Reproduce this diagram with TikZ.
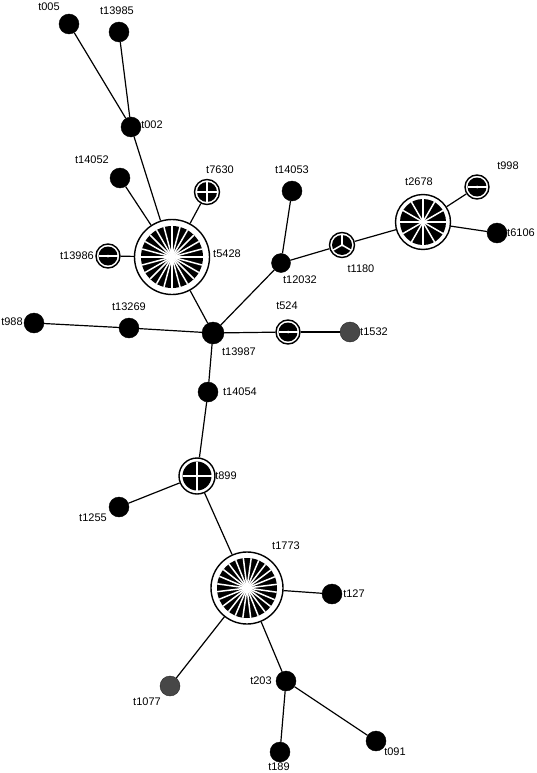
\documentclass[tikz,border=0pt]{standalone}
\usepackage{fontspec}
\setmainfont{Liberation Sans}
\newcommand\mypie[4]{% name, inner radius, slices, start angle
  \fill[black] (#1.center) circle (#2pt);
  \foreach \k in {1,...,#3} {\draw[white,line width=1.5pt] (#1.center) -- ++({#4+360/#3*\k}:#2pt);}
  \fill[white] (#1.center) circle (1.5pt);
}
\begin{document}
\begin{tikzpicture}[x=1pt,y=-1pt,
  dot/.style={circle,fill=black,draw=black,inner sep=0pt,minimum size=20pt},
  bigdot/.style={dot,minimum size=22pt},
  gdot/.style={dot,fill=black!72,draw=black!85},
  ring/.style={circle,draw=black,line width=1.4pt,fill=white,inner sep=0pt},
  lbl/.style={font=\fontsize{11}{13}\selectfont,inner sep=0pt},
  edge/.style={line width=1.2pt}]
\useasboundingbox (0,0) rectangle (536,773);

% plain nodes
\node[dot] (t005) at (69,24) {};
\node[dot] (t13985) at (119,32) {};
\node[dot] (t002) at (131,127) {};
\node[dot] (t14052) at (120,178) {};
\node[dot] (t14053) at (292,191) {};
\node[dot,minimum size=19pt] (t12032) at (281,263) {};
\node[dot] (t6106) at (497,233) {};
\node[dot] (t988) at (34,323) {};
\node[dot] (t13269) at (129,328) {};
\node[bigdot] (t13987) at (213,333) {};
\node[gdot] (t1532) at (350,332) {};
\node[dot] (t14054) at (208,392) {};
\node[dot] (t1255) at (119,507) {};
\node[dot] (t127) at (332,594) {};
\node[gdot] (t1077) at (170,686) {};
\node[dot] (t203) at (286,681) {};
\node[dot] (t189) at (280,752) {};
\node[dot] (t091) at (376,741) {};

% pie nodes
\node[ring,minimum size=75pt] (t5428) at (172,257) {};
\mypie{t5428}{31}{24}{0}
\node[ring,minimum size=55pt] (t2678) at (423,222) {};
\mypie{t2678}{23}{12}{0}
\node[ring,minimum size=72pt] (t1773) at (247,588) {};
\mypie{t1773}{30}{24}{7}
\node[ring,minimum size=25pt] (t7630) at (207,192) {};
\mypie{t7630}{10}{4}{0}
\node[ring,minimum size=24pt] (t13986) at (108,256) {};
\mypie{t13986}{9.5}{2}{0}
\node[ring,minimum size=25pt] (t1180) at (342,245) {};
\mypie{t1180}{10}{3}{-30}
\node[ring,minimum size=24pt] (t998) at (477,187) {};
\mypie{t998}{9.5}{2}{0}
\node[ring,minimum size=24pt] (t524) at (288,332) {};
\mypie{t524}{9.5}{2}{0}
\node[ring,minimum size=36pt] (t899) at (197,476) {};
\mypie{t899}{14.5}{4}{0}

% edges
\draw[edge] (t005) -- (t002);
\draw[edge] (t13985) -- (t002);
\draw[edge] (t002) -- (t5428);
\draw[edge] (t14052) -- (t5428);
\draw[edge] (t7630) -- (t5428);
\draw[edge] (t13986) -- (t5428);
\draw[edge] (t5428) -- (t13987);
\draw[edge] (t988) -- (t13269);
\draw[edge] (t13269) -- (t13987);
\draw[edge] (t13987) -- (t12032);
\draw[edge] (t12032) -- (t14053);
\draw[edge] (t12032) -- (t1180);
\draw[edge] (t1180) -- (t2678);
\draw[edge] (t2678) -- (t998);
\draw[edge] (t2678) -- (t6106);
\draw[edge] (t13987) -- (t524);
\draw[edge] (t524) -- (t1532);
\draw[edge] (t13987) -- (t14054);
\draw[edge] (t14054) -- (t899);
\draw[edge] (t899) -- (t1255);
\draw[edge] (t899) -- (t1773);
\draw[edge] (t1773) -- (t127);
\draw[edge] (t1773) -- (t1077);
\draw[edge] (t1773) -- (t203);
\draw[edge] (t203) -- (t189);
\draw[edge] (t203) -- (t091);

% labels
\node[lbl] (l005) at (49,7) {t005};
\node[lbl] (l13985) at (117,11) {t13985};
\node[lbl] (l002) at (152,125) {t002};
\node[lbl] (l14052) at (92,160) {t14052};
\node[lbl] (l7630) at (220,170) {t7630};
\node[lbl] (l13986) at (77,256) {t13986};
\node[lbl] (l5428) at (227,254) {t5428};
\node[lbl] (l14053) at (292,170) {t14053};
\node[lbl] (l12032) at (300,280) {t12032};
\node[lbl] (l1180) at (361,269) {t1180};
\node[lbl] (l2678) at (419,182) {t2678};
\node[lbl] (l998) at (508,166) {t998};
\node[lbl] (l6106) at (521,233) {t6106};
\node[lbl] (l988) at (12,322) {t988};
\node[lbl] (l13269) at (129,307) {t13269};
\node[lbl] (l13987) at (239,352) {t13987};
\node[lbl] (l524) at (287,306) {t524};
\node[lbl] (l1532) at (374,332) {t1532};
\node[lbl] (l14054) at (240,392) {t14054};
\node[lbl] (l899) at (226,476) {t899};
\node[lbl] (l1255) at (93,518) {t1255};
\node[lbl] (l1773) at (286,546) {t1773};
\node[lbl] (l127) at (354,594) {t127};
\node[lbl] (l1077) at (147,702) {t1077};
\node[lbl] (l203) at (261,681) {t203};
\node[lbl] (l189) at (279,767) {t189};
\node[lbl] (l091) at (395,752) {t091};
\end{tikzpicture}
\end{document}
